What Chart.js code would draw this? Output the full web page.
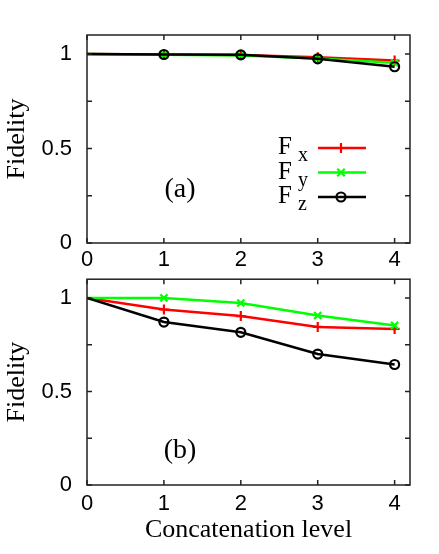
<!DOCTYPE html>
<html>
<head>
<meta charset="utf-8">
<script src="https://cdn.jsdelivr.net/npm/chart.js@4.4.0/dist/chart.umd.min.js"></script>
<style>
html, body { margin: 0; padding: 0; background: #fff; }
#wrap { position: relative; width: 439px; height: 554px; }
.panel { position: absolute; left: 0; width: 439px; }
#pa { top: 0; height: 272px; }
#pb { top: 272px; height: 282px; }
</style>
</head>
<body>
<div id="wrap">
  <div class="panel" id="pa"><canvas id="chartA" width="439" height="272"></canvas></div>
  <div class="panel" id="pb"><canvas id="chartB" width="439" height="282"></canvas></div>
</div>
<script>
// data
var levels = [0, 1, 2, 3, 4];
var xTicks = [0, 1, 2, 3, 4];
var yTicks = [0, 0.5, 1];
var yMinorTicks = [0.25, 0.75];
var subs = ['x', 'y', 'z'];

// panel (a)
var fxA = [1, 0.997, 0.994, 0.982, 0.965];
var fyA = [1, 0.996, 0.992, 0.976, 0.953];
var fzA = [1, 0.997, 0.995, 0.974, 0.932];
// panel (b)
var fxB = [1, 0.938, 0.903, 0.845, 0.834];
var fyB = [1, 1.0, 0.973, 0.906, 0.853];
var fzB = [1, 0.871, 0.816, 0.700, 0.644];

var colors = ['#ff0000', '#00ff00', '#000000'];
var styles = ['cross', 'crossRot', 'circle'];

function points(arr) {
    return arr.map(function(v, i) { return { x: levels[i], y: v }; });
}

function makeSets(fx, fy, fz) {
    return [fx, fy, fz].map(function(arr, i) {
        return {
            label: 'F' + subs[i],
            data: points(arr),
            borderColor: colors[i],
            backgroundColor: 'rgba(0,0,0,0)',
            borderWidth: 2.5,
            pointStyle: styles[i],
            pointRadius: function(c) { return c.dataIndex === 0 ? 0 : (i === 2 ? 4.5 : 5); },
            pointBorderWidth: 2.2,
            pointBorderColor: colors[i],
            pointBackgroundColor: 'rgba(0,0,0,0)',
            tension: 0,
            order: 2 - i
        };
    });
}

function drawMarker(ctx, style, x, y, r) {
    ctx.beginPath();
    if (style === 'cross') {
        ctx.moveTo(x - r, y); ctx.lineTo(x + r, y);
        ctx.moveTo(x, y - r); ctx.lineTo(x, y + r);
    } else if (style === 'crossRot') {
        var d = r * 0.75;
        ctx.moveTo(x - d, y - d); ctx.lineTo(x + d, y + d);
        ctx.moveTo(x - d, y + d); ctx.lineTo(x + d, y - d);
    } else {
        ctx.arc(x, y, r, 0, Math.PI * 2);
    }
    ctx.stroke();
}

// gnuplot-like frame with inward ticks, panel tag and legend
var framePlugin = {
    id: 'frame',
    afterDatasetsDraw: function(chart, args, opts) {
        var ctx = chart.ctx, a = chart.chartArea;
        var xs = chart.scales.x, ys = chart.scales.y;
        ctx.save();
        ctx.strokeStyle = '#222';
        ctx.lineWidth = 1.5;
        ctx.strokeRect(a.left, a.top, a.right - a.left, a.bottom - a.top);
        ctx.beginPath();
        xTicks.forEach(function(v) {
            var px = xs.getPixelForValue(v);
            ctx.moveTo(px, a.bottom); ctx.lineTo(px, a.bottom - 5);
            ctx.moveTo(px, a.top); ctx.lineTo(px, a.top + 5);
        });
        yTicks.concat(yMinorTicks).forEach(function(v) {
            var py = ys.getPixelForValue(v);
            ctx.moveTo(a.left, py); ctx.lineTo(a.left + 5, py);
            ctx.moveTo(a.right, py); ctx.lineTo(a.right - 5, py);
        });
        ctx.stroke();

        ctx.fillStyle = '#000';
        ctx.font = '28px "Liberation Serif", "Times New Roman", serif';
        ctx.textAlign = 'center';
        ctx.textBaseline = 'alphabetic';
        ctx.fillText(opts.tag, a.left + 93, a.top + opts.tagY);

        if (opts.legend) {
            chart.data.datasets.forEach(function(ds, i) {
                var ly = a.top + 113 + i * 24.5;
                ctx.fillStyle = '#000';
                ctx.textAlign = 'left';
                ctx.font = '25px "Liberation Serif", "Times New Roman", serif';
                ctx.fillText('F', a.left + 191, ly + 6);
                ctx.font = '20px "Liberation Serif", "Times New Roman", serif';
                ctx.fillText(subs[i], a.left + 211, ly + 13);
                ctx.strokeStyle = colors[i];
                ctx.lineWidth = 2.5;
                ctx.beginPath();
                ctx.moveTo(a.left + 231, ly); ctx.lineTo(a.left + 279, ly);
                ctx.stroke();
                ctx.lineWidth = 2.2;
                drawMarker(ctx, styles[i], a.left + 254, ly, i === 2 ? 4.5 : 5);
            });
        }
        ctx.restore();
    }
};

function makeOptions(padTop, xHeight, xPad, showXTitle, tag, tagY, legend) {
    return {
        responsive: false,
        animation: false,
        layout: { padding: { top: padTop, right: 29, left: 0, bottom: 0 } },
        plugins: {
            legend: { display: false },
            tooltip: { enabled: false },
            frame: { tag: tag, tagY: tagY, legend: legend }
        },
        scales: {
            x: {
                type: 'linear',
                min: 0,
                max: 4.2,
                grid: { display: false, drawTicks: false },
                border: { display: false },
                afterBuildTicks: function(s) { s.ticks = xTicks.map(function(v) { return { value: v }; }); },
                afterFit: function(s) { s.height = xHeight; },
                ticks: {
                    padding: xPad,
                    color: '#000',
                    maxRotation: 0,
                    font: { family: '"Liberation Sans", Arial, sans-serif', size: 22 },
                    callback: function(v) { return String(v); }
                },
                title: {
                    display: showXTitle,
                    text: 'Concatenation level',
                    color: '#000',
                    padding: { top: 0, bottom: 8 },
                    font: { family: '"Liberation Serif", "Times New Roman", serif', size: 26 }
                }
            },
            y: {
                min: 0,
                max: 1.1,
                grid: { display: false, drawTicks: false },
                border: { display: false },
                afterBuildTicks: function(s) { s.ticks = yTicks.map(function(v) { return { value: v }; }); },
                afterFit: function(s) { s.width = 87; s.paddingTop = 0; s.paddingBottom = 0; },
                ticks: {
                    padding: 15,
                    color: '#000',
                    font: { family: '"Liberation Sans", Arial, sans-serif', size: 22 },
                    callback: function(v) { return String(v); }
                },
                title: {
                    display: true,
                    text: 'Fidelity',
                    color: '#000',
                    padding: { top: 2, bottom: 0 },
                    font: { family: '"Liberation Serif", "Times New Roman", serif', size: 26 }
                }
            }
        }
    };
}

new Chart(document.getElementById('chartA').getContext('2d'), {
    type: 'line',
    data: { datasets: makeSets(fxA, fyA, fzA) },
    options: makeOptions(35, 29, 4, false, '(a)', 162, true),
    plugins: [framePlugin]
});

new Chart(document.getElementById('chartB').getContext('2d'), {
    type: 'line',
    data: { datasets: makeSets(fxB, fyB, fzB) },
    options: makeOptions(7, 69, 6, true, '(b)', 179, false),
    plugins: [framePlugin]
});
</script>
</body>
</html>
